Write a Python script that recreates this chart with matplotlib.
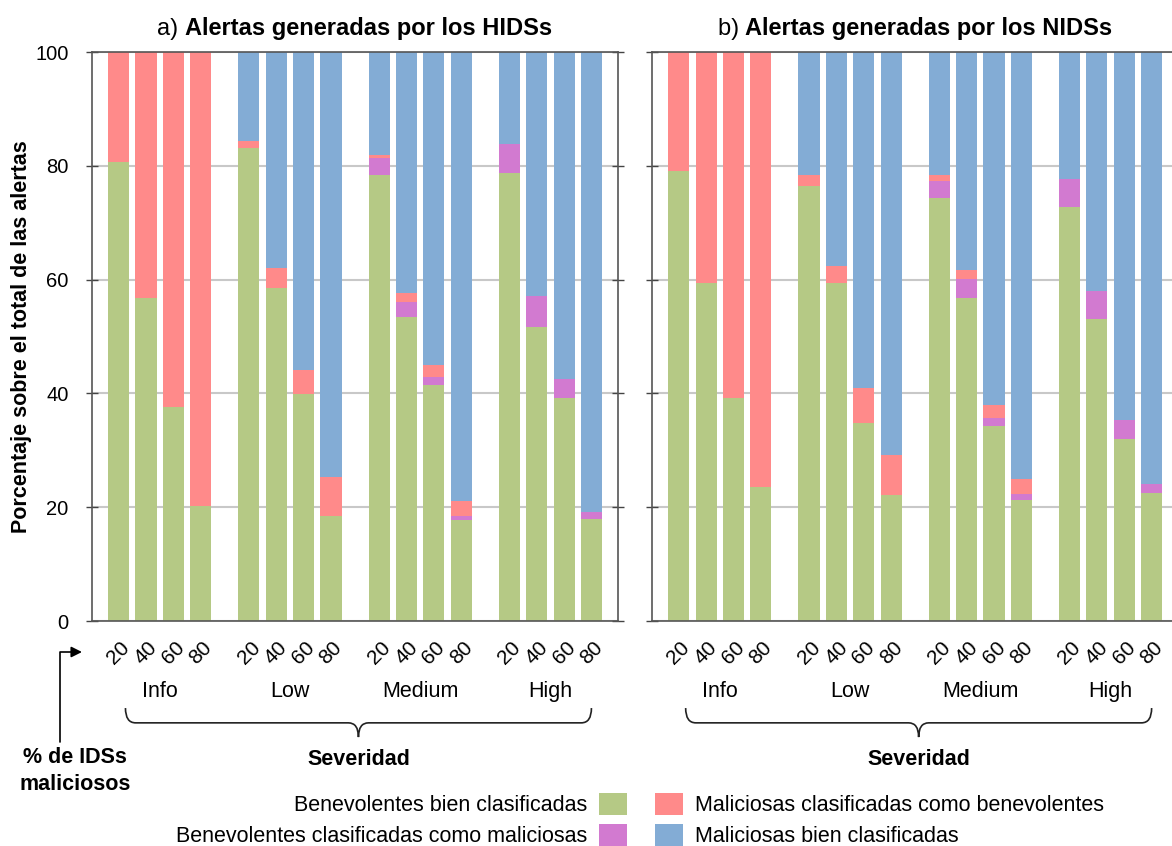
"""
Alertas generadas por HIDSs / NIDSs segun severidad y % de IDSs maliciosos
"""

import matplotlib
matplotlib.use('Agg')
import matplotlib.pyplot as plt
import matplotlib.patches as mpatches
import matplotlib.transforms as mtransforms
from matplotlib.path import Path
import numpy as np

plt.rcParams['font.family'] = ['Liberation Sans', 'DejaVu Sans']
plt.rcParams['font.size'] = 15

# ---- data (percentages, order: Info 20/40/60/80, Low ..., Medium ..., High ...)
severities = ['Info', 'Low', 'Medium', 'High']
pct_malicious = ['20', '40', '60', '80']

hids_benign_ok = [80.7, 56.8, 37.6, 20.2, 83.2, 58.6, 39.9, 18.5,
                  78.3, 53.5, 41.5, 17.8, 78.8, 51.7, 39.2, 17.9]
hids_benign_bad = [0, 0, 0, 0, 0, 0, 0, 0,
                   3.1, 2.6, 1.3, 0.7, 5.1, 5.5, 3.3, 1.3]
hids_malic_bad = [19.3, 43.2, 62.4, 79.8, 1.2, 3.5, 4.3, 6.8,
                  0.5, 1.5, 2.2, 2.6, 0, 0, 0, 0]
hids_malic_ok = [0, 0, 0, 0, 15.6, 37.9, 55.8, 74.7,
                 18.1, 42.4, 55.0, 78.9, 16.1, 42.8, 57.5, 80.8]

nids_benign_ok = [79.1, 59.4, 39.2, 23.5, 76.5, 59.4, 34.8, 22.1,
                  74.4, 56.8, 34.3, 21.3, 72.8, 53.1, 31.9, 22.5]
nids_benign_bad = [0, 0, 0, 0, 0, 0, 0, 0,
                   2.9, 3.3, 1.4, 1.1, 4.8, 4.9, 3.5, 1.6]
nids_malic_bad = [20.9, 40.6, 60.8, 76.5, 1.9, 3.0, 6.2, 7.1,
                  1.0, 1.6, 2.3, 2.6, 0, 0, 0, 0]
nids_malic_ok = [0, 0, 0, 0, 21.6, 37.6, 59.0, 70.8,
                 21.7, 38.3, 62.0, 75.0, 22.4, 42.0, 64.6, 75.9]

series_labels = ['Benevolentes bien clasificadas',
                 'Benevolentes clasificadas como maliciosas',
                 'Maliciosas clasificadas como benevolentes',
                 'Maliciosas bien clasificadas']
series_colors = ['#B5C985', '#D27AD0', '#FF8A8A', '#83ACD5']

# ---- layout (pixels)
W, H = 1172, 846
fig = plt.figure(figsize=(W / 100, H / 100), dpi=100)


def px_axes(left, top, width, height):
    return fig.add_axes([left / W, 1 - (top + height) / H, width / W, height / H])


group_step = 4.756
pos = np.array([g * group_step + j for g in range(len(severities))
                for j in range(len(pct_malicious))])

BRACE_TOP, BRACE_MID, BRACE_TIP = -0.153, -0.179, -0.204


def draw_brace(ax, x0, x1, r=0.37, rc=0.37):
    xc = (x0 + x1) / 2
    verts = [(x0, BRACE_TOP), (x0, BRACE_MID), (x0 + r, BRACE_MID),
             (xc - rc, BRACE_MID), (xc, BRACE_MID), (xc, BRACE_TIP),
             (xc, BRACE_MID), (xc + rc, BRACE_MID),
             (x1 - r, BRACE_MID), (x1, BRACE_MID), (x1, BRACE_TOP)]
    codes = [Path.MOVETO, Path.CURVE3, Path.CURVE3, Path.LINETO,
             Path.CURVE3, Path.CURVE3, Path.CURVE3, Path.CURVE3,
             Path.LINETO, Path.CURVE3, Path.CURVE3]
    trans = mtransforms.blended_transform_factory(ax.transData, ax.transAxes)
    patch = mpatches.PathPatch(Path(verts, codes), fill=False, lw=1.2,
                               edgecolor='#222222', transform=trans, clip_on=False)
    ax.add_patch(patch)


def draw_panel(ax, series, show_ylabels):
    bottom = np.zeros(len(pos))
    bars = []
    for vals, lab, col in zip(series, series_labels, series_colors):
        vals = np.array(vals, dtype=float)
        b = ax.bar(pos, vals, bottom=bottom, width=0.77, color=col, label=lab, zorder=2)
        bars.append(b)
        bottom += vals
    ax.set_xlim(-0.99, pos[-1] + 0.97)
    ax.set_ylim(0, 100)
    ax.set_yticks([0, 20, 40, 60, 80, 100])
    ax.yaxis.grid(True, color='#C8C8C8', lw=1.5, zorder=0)
    ax.set_axisbelow(True)
    for sp in ax.spines.values():
        sp.set_color('#555555')
        sp.set_linewidth(1.2)
    ax.tick_params(axis='y', direction='inout', length=9, width=1, color='#444444',
                   left=True, right=True, labelleft=show_ylabels, labelsize=14.5, pad=12)
    ax.set_xticks(pos, labels=pct_malicious * len(severities), rotation=45,
                  fontsize=15)
    ax.tick_params(axis='x', length=0, pad=12)

    n = len(pct_malicious)
    for g, sev in enumerate(severities):
        xc = pos[g * n:(g + 1) * n].mean()
        ax.text(xc, -0.124, sev, transform=ax.get_xaxis_transform(),
                ha='center', va='center', fontsize=15.5)
    draw_brace(ax, pos[0] + 0.25, pos[-1])
    ax.text((pos[0] + 0.25 + pos[-1]) / 2, -0.243, 'Severidad',
            transform=ax.get_xaxis_transform(), ha='center', va='center',
            fontsize=15.5, fontweight='bold')
    return bars


ax_a = px_axes(91.5, 52, 526.5, 569)
ax_b = px_axes(651.7, 52, 526.5, 569)

bars = draw_panel(ax_a, [hids_benign_ok, hids_benign_bad, hids_malic_bad, hids_malic_ok], True)
draw_panel(ax_b, [nids_benign_ok, nids_benign_bad, nids_malic_bad, nids_malic_ok], False)

ax_a.set_ylabel('Porcentaje sobre el total de las alertas', fontsize=15.5,
                fontweight='bold', labelpad=2)

# titles: normal prefix + bold text, centred on each panel
titles = []
for ax, prefix, ids in [(ax_a, 'a)', 'HIDSs'), (ax_b, 'b)', 'NIDSs')]:
    t1 = ax.text(0, 1.029, prefix + ' ', transform=ax.transAxes, ha='left',
                 va='baseline', fontsize=17)
    t2 = ax.text(0, 1.029, 'Alertas generadas por los ' + ids,
                 transform=ax.transAxes, ha='left', va='baseline', fontsize=17,
                 fontweight='bold')
    titles.append((ax, t1, t2))

fig.canvas.draw()
renderer = fig.canvas.get_renderer()
for ax, t1, t2 in titles:
    w1 = t1.get_window_extent(renderer).width
    w2 = t2.get_window_extent(renderer).width
    axw = ax.get_window_extent(renderer).width
    start = 0.5 - (w1 + w2) / 2 / axw
    t1.set_x(start)
    t2.set_x(start + w1 / axw)

# arrow pointing at the x tick labels
ax_a.annotate('', xy=(82, H - 652), xycoords='figure pixels',
              xytext=(60, H - 742), textcoords='figure pixels',
              arrowprops=dict(arrowstyle='-|>', color='black', lw=1.2,
                              mutation_scale=16, shrinkA=0, shrinkB=0,
                              connectionstyle='angle,angleA=90,angleB=0,rad=0'))
fig.text(75 / W, 1 - 771 / H, '% de IDSs\nmaliciosos', ha='center', va='center',
         fontsize=15.5, fontweight='bold', linespacing=1.35)

# legends
leg_kw = dict(frameon=False, handlelength=1.3, handleheight=1.2, handletextpad=0.55,
              labelspacing=0.35, borderpad=0, borderaxespad=0, fontsize=15.5)
fig.legend(handles=[bars[0], bars[1]], labels=series_labels[:2], loc='upper right',
           bbox_to_anchor=(627 / W, 1 - 793 / H), markerfirst=False, **leg_kw)
fig.legend(handles=[bars[2], bars[3]], labels=series_labels[2:], loc='upper left',
           bbox_to_anchor=(655 / W, 1 - 793 / H), **leg_kw)

plt.savefig('out.png', dpi=100, facecolor='white')
plt.close()
